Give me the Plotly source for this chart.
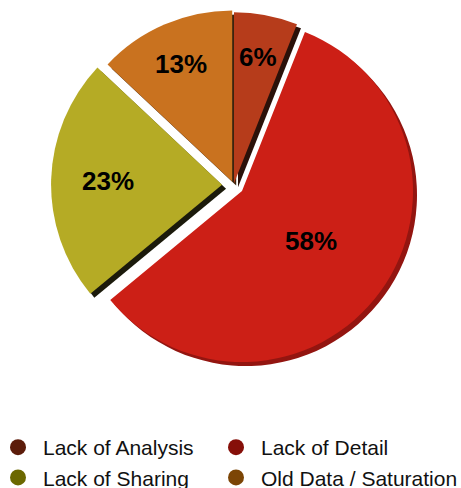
import math
import plotly.graph_objects as go

# Survey shares by cause
categories = ["Lack of Analysis", "Lack of Detail", "Lack of Sharing", "Old Data / Saturation"]
shares = [6, 58, 23, 13]

# Styling
pulls = [0.01, 0.06, 0.068, 0.022]
slice_colors = ["#b63c1b", "#cc1f16", "#b5ab25", "#c9721f"]
side_colors = ["#2b1109", "#931510", "#1b1a0b", "#3b240e"]
legend_colors = ["#5c1c0a", "#860f09", "#6b6800", "#7c4505"]
label_radius = [0.75, 0.50, 0.67, 0.75]   # label distance from slice tip, as a share of the radius
legend_column = ["legend", "legend2", "legend", "legend2"]

W, H = 461, 488
R = 171.0                     # pie radius (px)
cx, cy = 233.7, 185.0         # pie centre (px)
half = R * (1 + max(pulls))   # half side of the square pie box (px)
depth = (4, 4)                # offset of the dark side layer (px)


def box(dx=0.0, dy=0.0):
    return dict(
        x=[(cx - half + dx) / W, (cx + half + dx) / W],
        y=[1 - (cy + half + dy) / H, 1 - (cy - half + dy) / H],
    )


fig = go.Figure()

# dark "side" layer giving the slices some depth
fig.add_trace(go.Pie(
    labels=categories, values=shares, sort=False, direction="clockwise", rotation=0,
    pull=pulls, domain=box(*depth),
    marker=dict(colors=side_colors, line=dict(width=0)),
    textinfo="none", hoverinfo="skip", showlegend=False,
))

# main slices
fig.add_trace(go.Pie(
    labels=categories, values=shares, sort=False, direction="clockwise", rotation=0,
    pull=pulls, domain=box(),
    marker=dict(colors=slice_colors, line=dict(width=0)),
    textinfo="none", showlegend=False,
))

# percentage labels placed along each slice's middle angle
total = sum(shares)
start = 0.0
for share, pull, lr in zip(shares, pulls, label_radius):
    mid = math.radians((start + share / 2) / total * 360)
    start += share
    ux, uy = math.sin(mid), -math.cos(mid)
    px = cx + ux * R * (pull + lr)
    py = cy + uy * R * (pull + lr)
    fig.add_annotation(
        x=px / W, y=1 - py / H, xref="paper", yref="paper",
        xanchor="center", yanchor="middle",
        text=f"{share / total * 100:.0f}%", showarrow=False,
        font=dict(family="Liberation Sans", size=26, color="#000000", weight="bold"),
    )

# legend entries with round markers, in two columns
for name, col, leg in zip(categories, legend_colors, legend_column):
    fig.add_trace(go.Scatter(
        x=[None], y=[None], mode="markers", name=name, legend=leg,
        marker=dict(symbol="circle", size=16, color=col),
    ))

legend_style = dict(
    orientation="v", xanchor="left", y=-10 / H, yanchor="bottom",
    itemsizing="trace", itemwidth=40, tracegroupgap=0,
    font=dict(family="Liberation Sans", size=21, color="#111111"),
    bgcolor="rgba(0,0,0,0)",
)

fig.update_layout(
    width=W, height=H,
    margin=dict(l=0, r=0, t=0, b=0, autoexpand=False),
    paper_bgcolor="white", plot_bgcolor="rgba(0,0,0,0)",
    xaxis=dict(visible=False), yaxis=dict(visible=False),
    showlegend=True,
    legend=dict(x=-7 / W, **legend_style),
    legend2=dict(x=211 / W, **legend_style),
)

fig.write_html("out.html")
